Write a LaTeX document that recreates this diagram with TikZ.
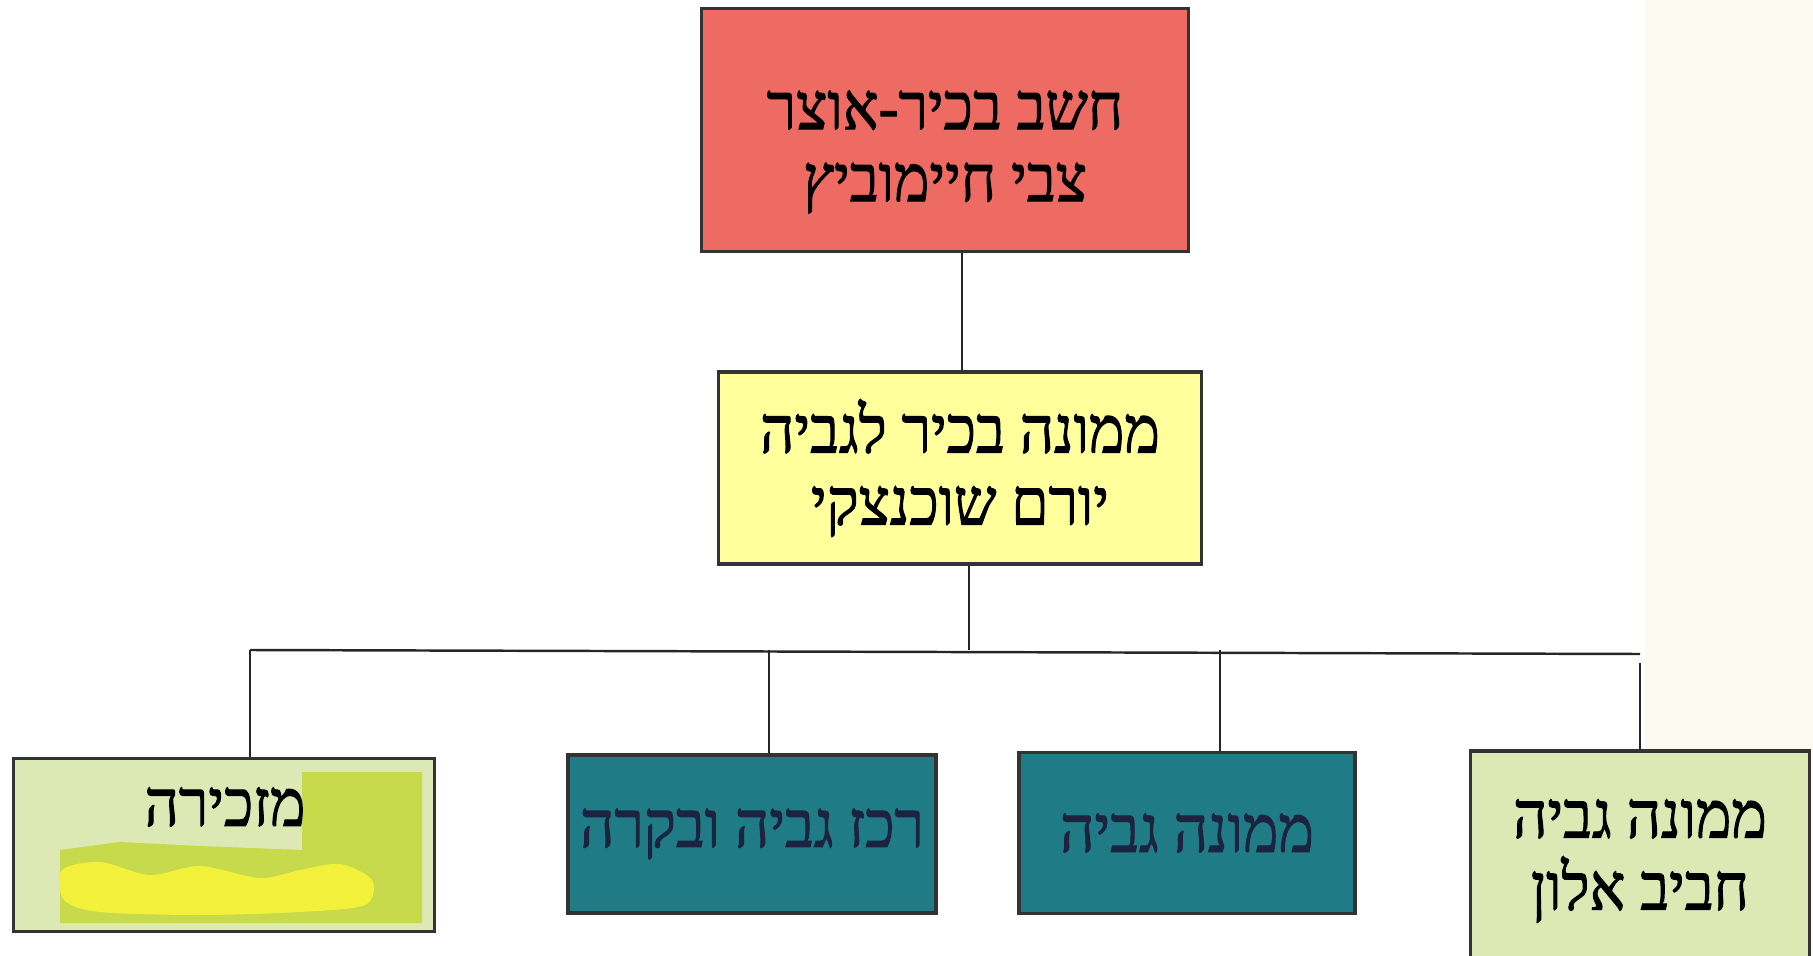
\documentclass[tikz,border=0pt]{standalone}
\usepackage{fontspec}
\newfontfamily\hebfont[Script=Hebrew, FakeStretch=0.92, FakeBold=1.6]{Liberation Serif}
\TeXXeTstate=1
\definecolor{redbox}{HTML}{EE6B63}
\definecolor{yellowbox}{HTML}{FFFF9C}
\definecolor{tealbox}{HTML}{1F7B85}
\definecolor{greenbox}{HTML}{DDE9B5}
\definecolor{limebox}{HTML}{C6DA4C}
\definecolor{blobyellow}{HTML}{F3F13C}
\definecolor{tealtext}{HTML}{1B2340}
\definecolor{cream}{HTML}{FCFBF1}
\begin{document}
\begin{tikzpicture}[box/.style={draw=black!80, line width=0.9pt, inner sep=0pt, align=center,
                    font=\hebfont\fontsize{18.5}{20.5}\selectfont},
                    boxtext/.style={align=center, inner sep=0pt, font=\hebfont\fontsize{18.5}{20.5}\selectfont},
                    link/.style={line width=0.7pt, black!85}]
                \useasboundingbox (0,0) rectangle (18.13,9.55);
                \fill[cream] (16.45,0) rectangle (18.13,9.55);

                \node[box, fill=redbox, minimum width=4.87cm, minimum height=2.43cm] (chief) at (9.45,8.25) {};
                \node[boxtext] (chieftext) at ([yshift=-2.2mm]chief.center)
                    {\beginR חשב בכיר-אוצר\endR\\\beginR צבי חיימוביץ\endR};
                \node[box, fill=yellowbox, minimum width=4.83cm, minimum height=1.92cm] (head) at (9.60,4.87)
                    {\beginR ממונה בכיר לגביה\endR\\\beginR יורם שוכנצקי\endR};

                % ארבע היחידות בשורה התחתונה
                \node[box, fill=greenbox, minimum width=4.21cm, minimum height=1.73cm] (sec) at (2.24,1.10) {};
                \node[box, fill=tealbox, text=tealtext, minimum width=3.68cm, minimum height=1.58cm] (coord) at (7.52,1.21)
                    {\beginR רכז גביה ובקרה\endR};
                \node[box, fill=tealbox, text=tealtext, minimum width=3.36cm, minimum height=1.61cm] (coll) at (11.87,1.22)
                    {\beginR ממונה גביה\endR};
                \node[box, fill=greenbox, minimum width=3.39cm, minimum height=2.20cm] (mgr) at (16.40,0.94)
                    {\beginR ממונה גביה\endR\\\beginR חביב אלון\endR};

                % כתמי הצבע במשבצת המזכירה
                \fill[limebox] (3.02,1.83) -- (4.22,1.83) -- (4.22,0.32) -- (0.60,0.32) -- (0.60,1.05)
                    -- (1.20,1.13) -- (2.00,1.09) -- (3.02,1.05) -- cycle;
                \fill[blobyellow] plot[smooth cycle] coordinates {(0.62,0.85) (1.00,0.93) (1.50,0.80) (2.00,0.89)
                    (2.60,0.77) (3.00,0.85) (3.40,0.91) (3.72,0.75) (3.65,0.50) (3.00,0.43) (2.00,0.40)
                    (1.00,0.43) (0.64,0.55)};
                \node[boxtext] (seclabel) at (2.25,1.48) {\beginR מזכירה\endR};

                % קווי החיבור
                \coordinate (busl) at (2.50,3.05);
                \coordinate (busr) at (16.40,3.01);
                \coordinate (gap) at (16.40,2.92);
                \draw[link] ([xshift=1.7mm]chief.south) -- ([xshift=1.7mm]chief.south |- head.north);
                \draw[link] ([xshift=0.9mm]head.south) -- ([xshift=0.9mm]head.south |- busl);
                \draw[link] (busl) -- (busr);
                \draw[link] (busl) -- (busl |- sec.north);
                \draw[link] ([xshift=1.7mm]coord.north) -- ([xshift=1.7mm]coord.north |- busl);
                \draw[link] ([xshift=3.3mm]coll.north) -- ([xshift=3.3mm]coll.north |- busl);
                \draw[link] (mgr.north) -- (gap);
                \end{tikzpicture}
\end{document}
